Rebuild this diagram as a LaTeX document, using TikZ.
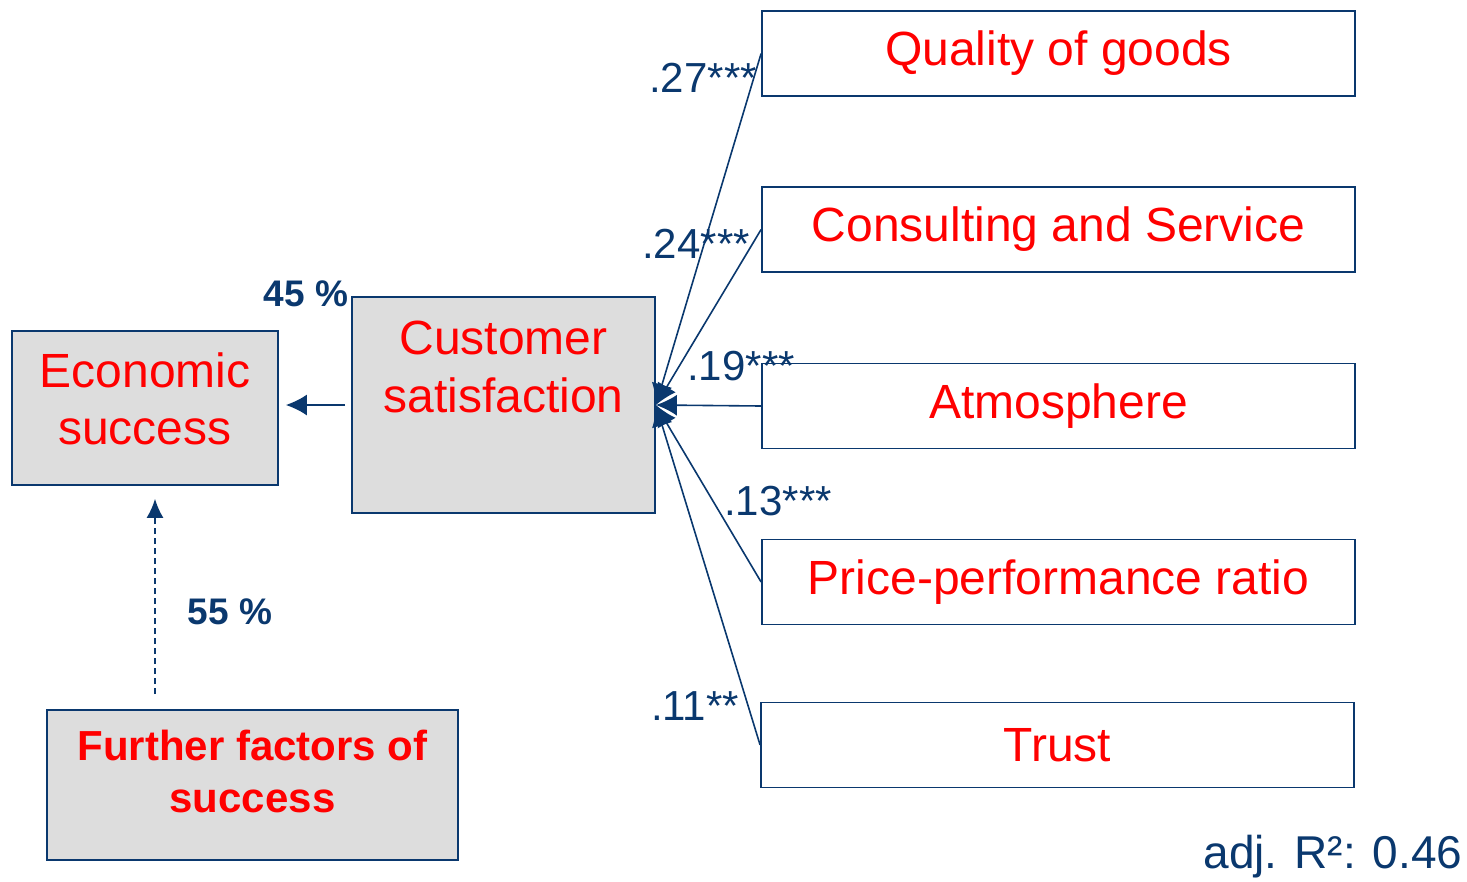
\documentclass[tikz,border=0pt]{standalone}
\usepackage{fontspec}
\setmainfont{Liberation Sans}
\usepackage{xcolor}
\usetikzlibrary{arrows.meta,positioning}
\definecolor{navy}{RGB}{10,56,110}
\definecolor{boxgrey}{RGB}{221,221,221}
\tikzset{
  factor/.style={draw=navy, line width=1.8pt, fill=white, minimum width=593pt, minimum height=85pt, inner sep=0pt, text=red, font=\fontsize{48}{57.6}\selectfont},
  greybox/.style={draw=navy, line width=1.8pt, fill=boxgrey, inner sep=0pt},
  boxtext/.style={text=red, align=center, inner sep=0pt, font=\fontsize{48}{57.6}\selectfont},
  link/.style={draw=navy, line width=1.6pt, -{Latex[length=21pt,width=21pt]}},
  dashlink/.style={draw=navy, line width=1.5pt, dash pattern=on 6pt off 4pt, -{Latex[length=19pt,width=17pt]}},
  weight/.style={text=navy, inner sep=0pt, font=\fontsize{42}{50}\selectfont},
  share/.style={text=navy, inner sep=0pt, font=\bfseries\fontsize{37}{44}\selectfont},
}
\begin{document}
\begin{tikzpicture}[x=1pt,y=-1pt]
  \useasboundingbox (0,0) rectangle (1467,881);
  \node[factor] (quality) at (1058.5,53.5) {Quality of goods};
  \node[factor] (consult) at (1058.5,229.5) {Consulting and Service};
  \node[factor] (atmo)    at (1058.5,406) {Atmosphere};
  \node[factor] (price)   at (1058.5,582) {Price-performance ratio};
  \node[factor] (trust)   at (1057.5,745) {Trust};
  \node[greybox, minimum width=303pt, minimum height=216pt] (custsat) at (503.5,405) {};
  \node[boxtext, below=25pt of custsat.north] (custtext) {Customer\\satisfaction};
  \node[greybox, minimum width=266pt, minimum height=154pt] (econ) at (145,408) {};
  \node[boxtext] (econtext) at ([yshift=9pt]econ.center) {Economic\\success};
  \node[greybox, minimum width=411pt, minimum height=150pt] (further) at (252.5,785) {};
  \node[boxtext, font=\bfseries\fontsize{42}{52}\selectfont] (furthertext) at ([yshift=14pt]further.center) {Further factors of\\success};
  % paths into customer satisfaction
  \foreach \f in {quality,consult,atmo,price,trust}
    \draw[link] (\f.west) -- (custsat.east);
  \draw[link, shorten <=6pt, shorten >=7pt] (custsat.west) -- (custsat.west -| econ.east);
  \draw[dashlink, shorten <=15pt, shorten >=13pt] ([xshift=10pt]econ.south |- further.north) -- ([xshift=10pt]econ.south);
  % coefficients
  \node[weight] (w1) at (703,78) {.27***};
  \node[weight] (w2) at (696,244) {.24***};
  \node[weight] (w3) at (741,366) {.19***};
  \node[weight] (w4) at (778,501) {.13***};
  \node[weight] (w5) at (695,706) {.11**};
  \node[share] (s45) at (306,294) {45 \%};
  \node[share] (s55) at (230,612) {55 \%};
  \node[text=navy, inner sep=0pt, font=\fontsize{46}{55}\selectfont] (adjr) at (1333,857) {adj. R²: 0.46};
\end{tikzpicture}
\end{document}
